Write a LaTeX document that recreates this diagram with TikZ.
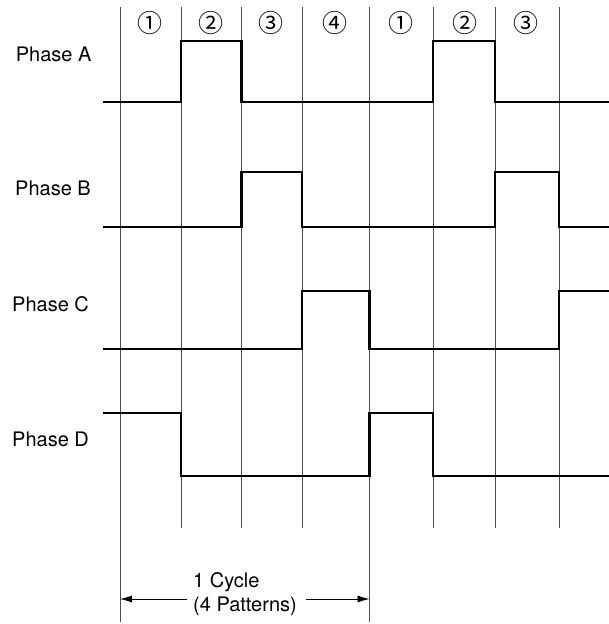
\documentclass[tikz,border=0pt]{standalone}
\usepackage{fontspec}
\setmainfont{TeX Gyre Heros}
\newfontfamily\symfont{Noto Sans CJK SC}
\usetikzlibrary{arrows.meta}
\begin{document}
\begin{tikzpicture}[x=1pt,y=-1pt,
  grid/.style={line width=0.8pt,draw=black!70},
  wave/.style={line width=2.8pt,line join=miter,line cap=butt},
  lbl/.style={anchor=base west,inner sep=0pt,font=\fontsize{20}{24}\selectfont},
  num/.style={inner sep=0pt,font=\symfont\fontsize{25}{25}\selectfont},
  dim/.style={line width=0.8pt,-{Latex[length=12pt,width=7pt]}}]
\useasboundingbox (0,0) rectangle (609,624);
% grid lines
\draw[grid] (120,7) -- (120,622);
\draw[grid] (369.5,7) -- (369.5,622);
\foreach \x in {181,241.5,302,433,495,559}
  \draw[grid] (\x,7) -- (\x,528);
% pattern numbers
\node[num] (n1) at (150,23) {①};
\node[num] (n2) at (211,23) {②};
\node[num] (n3) at (271,23) {③};
\node[num] (n4) at (335,23) {④};
\node[num] (n5) at (401,23) {①};
\node[num] (n6) at (465,23) {②};
\node[num] (n7) at (526,23) {③};
% labels
\node[lbl] (pa) at (15.7,61) {Phase A};
\node[lbl] (pb) at (15,195) {Phase B};
\node[lbl] (pc) at (12,311) {Phase C};
\node[lbl] (pd) at (12,446.7) {Phase D};
% waveforms
\draw[wave] (103,102) -- (181,102) -- (181,41) -- (241.5,41) -- (241.5,102) -- (433,102) -- (433,41) -- (495,41) -- (495,102) -- (609,102);
\draw[wave] (103,227) -- (241.5,227) -- (241.5,172) -- (302,172) -- (302,227) -- (495,227) -- (495,172) -- (559,172) -- (559,227) -- (609,227);
\draw[wave] (103,349) -- (302,349) -- (302,291) -- (369.5,291) -- (369.5,349) -- (559,349) -- (559,291) -- (609,291);
\draw[wave] (103,413) -- (181,413) -- (181,476) -- (369.5,476) -- (369.5,413) -- (433,413) -- (433,476) -- (609,476);
% cycle dimension
\node[lbl,align=left,anchor=north west] (cyc) at (193,572) {1 Cycle\\(4 Patterns)};
\coordinate (cl) at (120,599);
\coordinate (cr) at (369.5,599);
\coordinate (gl) at (187,599);
\coordinate (gr) at (306,599);
\draw[dim] (gl) -- (cl);
\draw[dim] (gr) -- (cr);
\end{tikzpicture}
\end{document}
